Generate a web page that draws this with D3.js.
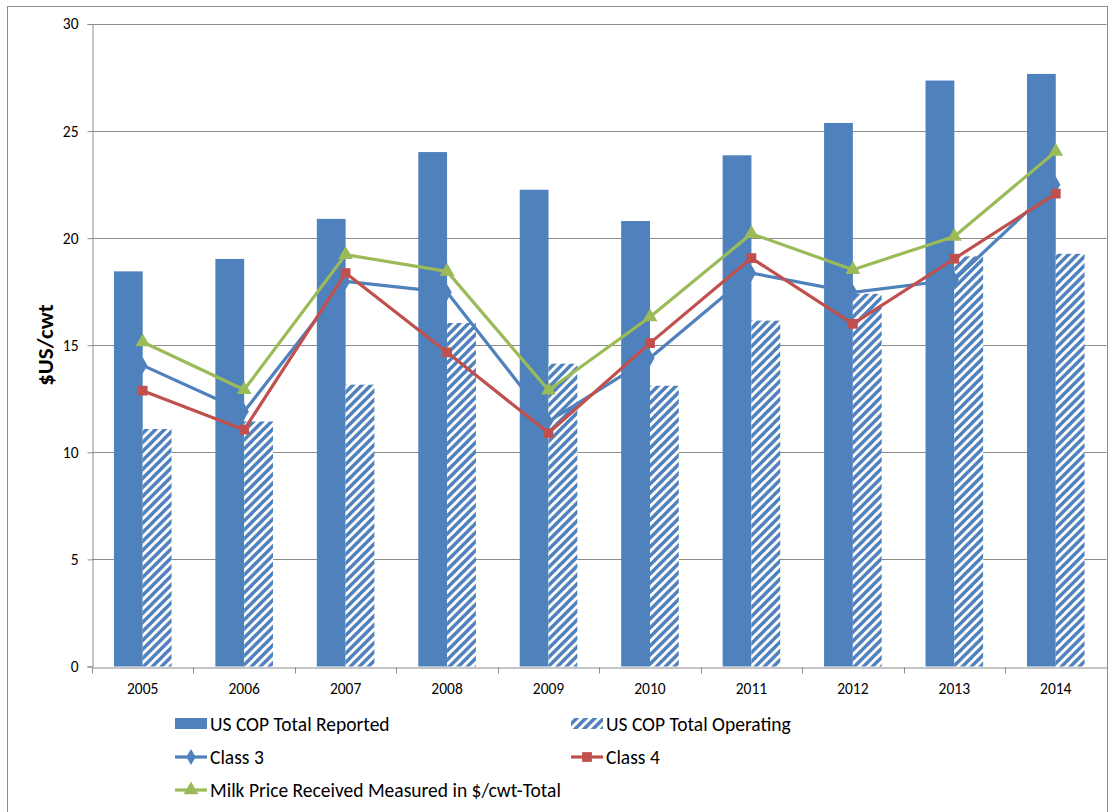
<!DOCTYPE html>
<html>
<head>
<meta charset="utf-8">
<script src="https://cdn.jsdelivr.net/npm/d3@7"></script>
<style>
  body { margin: 0; background: #fff; }
  svg { font-family: Carlito, Lato, "Open Sans", sans-serif; }
</style>
</head>
<body>
<svg id="chart" width="1113" height="812"></svg>
<script>
// values
var years = ["2005", "2006", "2007", "2008", "2009", "2010", "2011", "2012", "2013", "2014"];
var totalReported = [18.45, 19.03, 20.9, 24.02, 22.26, 20.8, 23.87, 25.38, 27.36, 27.67];
var totalOperating = [11.09, 11.44, 13.16, 16.04, 14.14, 13.11, 16.15, 17.4, 19.15, 19.27];
var class3 = [14.06, 11.91, 17.98, 17.47, 11.44, 14.4, 18.37, 17.47, 18.06, 22.5];
var class4 = [12.88, 11.06, 18.37, 14.67, 10.9, 15.1, 19.07, 16.0, 19.04, 22.08];
var milkPrice = [15.15, 12.92, 19.23, 18.45, 12.9, 16.32, 20.21, 18.53, 20.08, 24.05];
var yTicks = [0, 5, 10, 15, 20, 25, 30];

var blue = "#4F81BD", red = "#C0504D", green = "#9BBB59", grid = "#8c8c8c";

var svg = d3.select("#chart");
var margin = { left: 92, right: 7, top: 24, bottom: 146 };

// outer chart frame
svg.append("rect")
    .attr("x", 7.5).attr("y", 6.5)
    .attr("width", 1100).attr("height", 820)
    .attr("fill", "none").attr("stroke", "#8c8c8c").attr("stroke-width", 1);

// hatch pattern for operating cost
var defs = svg.append("defs");
var pat = defs.append("pattern")
    .attr("id", "hatch")
    .attr("patternUnits", "userSpaceOnUse")
    .attr("width", 9).attr("height", 9);
pat.append("rect").attr("width", 9).attr("height", 9).attr("fill", "#fff");
pat.append("path")
    .attr("d", "M-2,2 l4,-4 M0,9 l9,-9 M7,11 l4,-4")
    .attr("stroke", blue).attr("stroke-width", 3.4);

var x = d3.scaleBand()
    .domain(years)
    .range([margin.left, 1106.5]);
var y = d3.scaleLinear()
    .domain([0, 30])
    .range([666.5, margin.top]);

var barW = 28.8;

// gridlines
svg.append("g")
    .selectAll("line")
    .data(yTicks.filter(function (d) { return d > 0; }))
    .join("line")
    .attr("x1", margin.left).attr("x2", 1106.5)
    .attr("y1", function (d) { return Math.round(y(d)) + 0.5; })
    .attr("y2", function (d) { return Math.round(y(d)) + 0.5; })
    .attr("stroke", grid).attr("stroke-width", 1);

// bars
var cx = function (d) { return x(d) + x.bandwidth() / 2; };
svg.append("g").selectAll("rect")
    .data(years)
    .join("rect")
    .attr("x", function (d) { return cx(d) - barW; })
    .attr("y", function (d, i) { return y(totalReported[i]); })
    .attr("width", barW)
    .attr("height", function (d, i) { return y(0) - y(totalReported[i]); })
    .attr("fill", blue);
svg.append("g").selectAll("rect")
    .data(years)
    .join("rect")
    .attr("x", function (d) { return cx(d); })
    .attr("y", function (d, i) { return y(totalOperating[i]); })
    .attr("width", barW)
    .attr("height", function (d, i) { return y(0) - y(totalOperating[i]); })
    .attr("fill", "url(#hatch)");

// axes
var yAxis = d3.axisLeft(y).tickValues(yTicks).tickSize(5).tickPadding(9);
var gy = svg.append("g")
    .attr("transform", "translate(" + (margin.left + 0.5) + ",0)")
    .call(yAxis);
var xAxis = d3.axisBottom(x).tickSize(0).tickPadding(15);
var gx = svg.append("g")
    .attr("transform", "translate(0," + (Math.round(y(0)) + 0.5) + ")")
    .call(xAxis);
// category boundary ticks
gx.selectAll(".bound")
    .data(years.concat(["end"]))
    .join("line")
    .attr("class", "bound")
    .attr("x1", function (d, i) { return Math.round(margin.left + i * x.step()) + 0.5; })
    .attr("x2", function (d, i) { return Math.round(margin.left + i * x.step()) + 0.5; })
    .attr("y1", 0).attr("y2", 6)
    .attr("stroke", grid);
[gx, gy].forEach(function (g) {
    g.select(".domain").attr("stroke", grid);
    g.selectAll(".tick line").attr("stroke", grid);
    g.selectAll("text").attr("fill", "#000").style("font-size", "15.5px")
        .style("font-family", "Carlito, Lato, sans-serif");
});

// y title
svg.append("text")
    .attr("transform", "translate(53,345) rotate(-90)")
    .attr("text-anchor", "middle")
    .style("font-size", "23px").style("font-weight", "bold")
    .text("$US/cwt");

// lines
var lineGen = d3.line()
    .x(function (d, i) { return cx(years[i]); })
    .y(function (d) { return y(d); });
var series = [
    { name: "Class 3", values: class3, color: blue, symbol: d3.symbolDiamond, size: 75 },
    { name: "Class 4", values: class4, color: red, symbol: d3.symbolSquare, size: 95 },
    { name: "Milk Price Received Measured in $/cwt-Total", values: milkPrice, color: green, symbol: d3.symbolTriangle, size: 95 }
];
series.forEach(function (s) {
    svg.append("path")
        .datum(s.values)
        .attr("d", lineGen)
        .attr("fill", "none")
        .attr("stroke", s.color)
        .attr("stroke-width", 3.2)
        .attr("stroke-linejoin", "round");
    svg.append("g").selectAll("path")
        .data(s.values)
        .join("path")
        .attr("transform", function (d, i) { return "translate(" + cx(years[i]) + "," + y(d) + ")"; })
        .attr("d", d3.symbol().type(s.symbol).size(s.size))
        .attr("fill", s.color);
});

// legend
var legendItems = [
    { name: "US COP Total Reported", type: "bar", x: 175, y: 724 },
    { name: "US COP Total Operating", type: "hatch", x: 571, y: 724 },
    { name: "Class 3", type: "line", s: series[0], x: 175, y: 757 },
    { name: "Class 4", type: "line", s: series[1], x: 571, y: 757 },
    { name: "Milk Price Received Measured in $/cwt-Total", type: "line", s: series[2], x: 175, y: 790 }
];
var lg = svg.append("g").selectAll("g")
    .data(legendItems)
    .join("g")
    .attr("transform", function (d) { return "translate(" + d.x + "," + d.y + ")"; });
lg.each(function (d) {
    var g = d3.select(this);
    if (d.type === "bar") {
        g.append("rect").attr("x", 0).attr("y", -6).attr("width", 32).attr("height", 11).attr("fill", blue);
    } else if (d.type === "hatch") {
        g.append("rect").attr("x", 0).attr("y", -6).attr("width", 32).attr("height", 11).attr("fill", "url(#hatch)");
    } else {
        g.append("line").attr("x1", 0).attr("x2", 32).attr("y1", 0).attr("y2", 0)
            .attr("stroke", d.s.color).attr("stroke-width", 3.2);
        g.append("path").attr("transform", "translate(16,0)")
            .attr("d", d3.symbol().type(d.s.symbol).size(d.s.size))
            .attr("fill", d.s.color);
    }
    g.append("text")
        .attr("x", 35).attr("y", 0).attr("dy", "0.35em")
        .style("font-size", "19.5px")
        .text(d.name);
});
</script>
</body>
</html>
